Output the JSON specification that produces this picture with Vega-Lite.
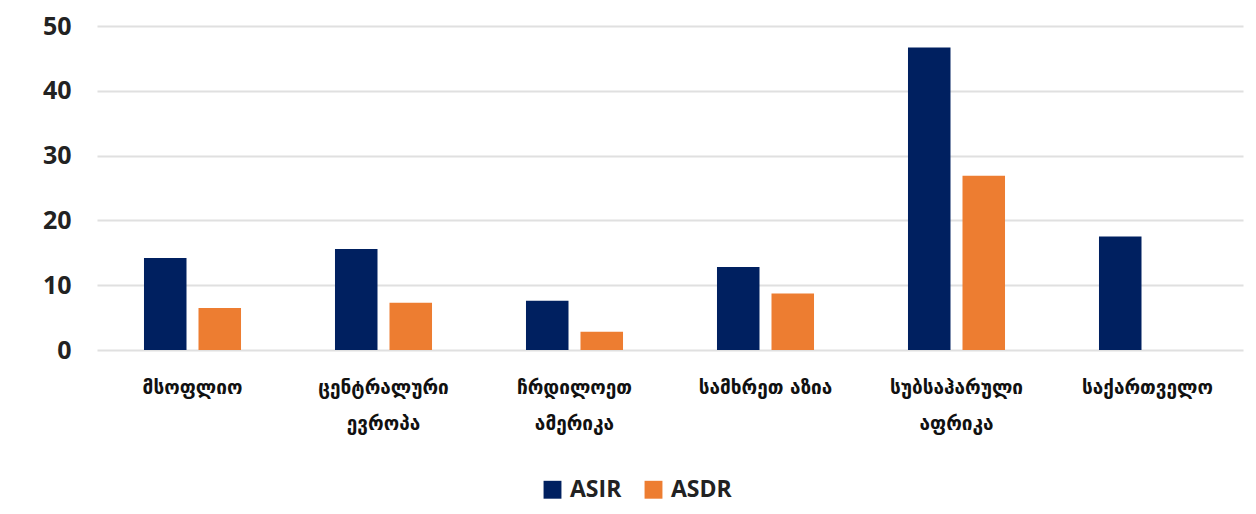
{
  "$schema": "https://vega.github.io/schema/vega-lite/v6.json",
  "autosize": {"type": "none"},
  "width": 1146,
  "height": 324,
  "padding": {"left": 97, "top": 26, "right": 13, "bottom": 164},
  "background": "white",
  "data": {
    "values": [
      {"region": "მსოფლიო", "measure": "ASIR", "value": 14.2},
      {"region": "მსოფლიო", "measure": "ASDR", "value": 6.5},
      {"region": "ცენტრალური ევროპა", "measure": "ASIR", "value": 15.6},
      {"region": "ცენტრალური ევროპა", "measure": "ASDR", "value": 7.3},
      {"region": "ჩრდილოეთ ამერიკა", "measure": "ASIR", "value": 7.6},
      {"region": "ჩრდილოეთ ამერიკა", "measure": "ASDR", "value": 2.8},
      {"region": "სამხრეთ აზია", "measure": "ASIR", "value": 12.8},
      {"region": "სამხრეთ აზია", "measure": "ASDR", "value": 8.7},
      {"region": "სუბსაჰარული აფრიკა", "measure": "ASIR", "value": 46.7},
      {"region": "სუბსაჰარული აფრიკა", "measure": "ASDR", "value": 26.9},
      {"region": "საქართველო", "measure": "ASIR", "value": 17.5}
    ]
  },
  "mark": {"type": "bar"},
  "encoding": {
    "x": {
      "field": "region",
      "type": "nominal",
      "sort": null,
      "title": null,
      "scale": {"paddingInner": 0.492, "paddingOuter": 0.246},
      "axis": {
        "domain": false,
        "ticks": false,
        "labelAngle": 0,
        "labelFont": "DejaVu Sans",
        "labelFontWeight": "bold",
        "labelFontSize": 19,
        "labelColor": "#111111",
        "labelLineHeight": 36,
        "labelPadding": 28,
        "labelLimit": 300,
        "labelExpr": "datum.label == 'სამხრეთ აზია' ? datum.label : split(datum.label, ' ')"
      }
    },
    "xOffset": {
      "field": "measure",
      "type": "nominal",
      "sort": ["ASIR", "ASDR"],
      "scale": {"paddingInner": 0.22, "paddingOuter": 0}
    },
    "y": {
      "field": "value",
      "type": "quantitative",
      "title": null,
      "scale": {"domain": [0, 50]},
      "axis": {
        "values": [0, 10, 20, 30, 40, 50],
        "domain": false,
        "ticks": false,
        "labelFont": "Open Sans",
        "labelFontWeight": "bold",
        "labelFontSize": 25,
        "labelColor": "#222222",
        "labelPadding": 26,
        "gridColor": "#e0e0e0",
        "gridWidth": 2
      }
    },
    "color": {
      "field": "measure",
      "type": "nominal",
      "sort": ["ASIR", "ASDR"],
      "scale": {"domain": ["ASIR", "ASDR"], "range": ["#002060", "#ED7D31"]},
      "legend": {
        "title": null,
        "orient": "none",
        "direction": "horizontal",
        "legendX": 444,
        "legendY": 452,
        "symbolType": "square",
        "symbolSize": 320,
        "symbolStrokeWidth": 0,
        "labelFont": "Open Sans",
        "labelFontWeight": "bold",
        "labelFontSize": 23,
        "labelColor": "#222222",
        "columnPadding": 20,
        "labelOffset": 6
      }
    }
  },
  "config": {"view": {"stroke": null}}
}
